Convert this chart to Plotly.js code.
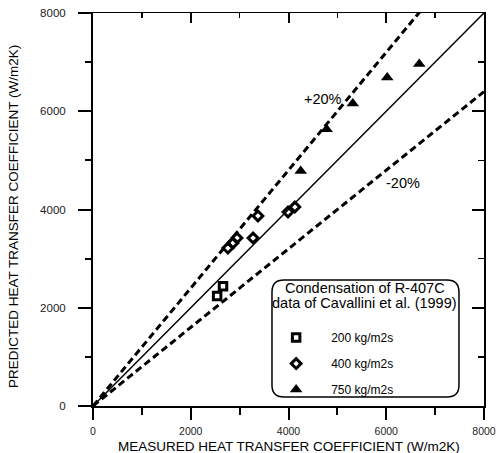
<!DOCTYPE html>
<html>
<head>
<meta charset="utf-8">
<script src="https://cdn.plot.ly/plotly-3.0.1.min.js"></script>
<style>html,body{margin:0;padding:0;background:#fff;}</style>
</head>
<body>
<div id="chart" style="width:496px;height:453px;"></div>
<script>
// Data (W/m2K)
const g200_measured = [2660, 2540];
const g200_predicted = [2440, 2240];
const g400_measured = [2760, 2865, 2945, 3275, 3375, 3990, 4130];
const g400_predicted = [3215, 3320, 3420, 3420, 3870, 3950, 4050];
const g750_measured = [4250, 4780, 5315, 6020, 6675];
const g750_predicted = [4785, 5635, 6160, 6685, 6960];
const refRange = [0, 8000];
const plus20 = refRange.map(v => v * 1.2);
const minus20 = refRange.map(v => v * 0.8);
const seriesNames = ['200 kg/m2s', '400 kg/m2s', '750 kg/m2s'];
const legendTitleLines = ['Condensation of R-407C', 'data of Cavallini et al. (1999)'];
const xTitle = 'MEASURED HEAT TRANSFER COEFFICIENT (W/m2K)';
const yTitle = 'PREDICTED HEAT TRANSFER COEFFICIENT (W/m2K)';

const FONT = 'Liberation Sans, Arial, sans-serif';

const traces = [
  {x: refRange, y: refRange, mode: 'lines', line: {color: '#000', width: 1.5}, showlegend: false, hoverinfo: 'skip', xaxis: 'x2', yaxis: 'y2'},
  {x: refRange, y: plus20, mode: 'lines', line: {color: '#000', width: 3, dash: '7px,4px'}, showlegend: false, hoverinfo: 'skip'},
  {x: refRange, y: minus20, mode: 'lines', line: {color: '#000', width: 3, dash: '7px,4px'}, showlegend: false, hoverinfo: 'skip'},
  {x: g200_measured, y: g200_predicted, mode: 'markers', name: seriesNames[0], legendgroup: 'a',
   marker: {symbol: 'square-open', size: 7.5, color: '#000', line: {width: 3, color: '#000'}}},
  {x: g400_measured, y: g400_predicted, mode: 'markers', name: seriesNames[1], legendgroup: 'b',
   marker: {symbol: 'diamond-open', size: 7.5, color: '#000', line: {width: 3, color: '#000'}}},
  {x: g750_measured, y: g750_predicted, mode: 'markers', name: seriesNames[2], legendgroup: 'c',
   marker: {symbol: 'triangle-up', size: 11, color: '#000', line: {width: 0}}}
];

// rounded legend box in data units (both axes 0..8000)
const bx0 = 3662, bx1 = 7488, by0 = 183, by1 = 2565, rx = 245, ry = 245;
const boxPath = `M ${bx0+rx},${by1} L ${bx1-rx},${by1} Q ${bx1},${by1} ${bx1},${by1-ry} L ${bx1},${by0+ry} Q ${bx1},${by0} ${bx1-rx},${by0} L ${bx0+rx},${by0} Q ${bx0},${by0} ${bx0},${by0+ry} L ${bx0},${by1-ry} Q ${bx0},${by1} ${bx0+rx},${by1} Z`;

const axCommon = {
  range: [0, 8000], showgrid: false, zeroline: false, showline: true,
  linecolor: '#000', linewidth: 2, dtick: 2000, tick0: 0,
  tickcolor: '#000', tickwidth: 2, fixedrange: true
};

const layout = {
  width: 496, height: 453,
  margin: {l: 93, r: 12, t: 13, b: 47},
  paper_bgcolor: '#fff', plot_bgcolor: '#fff',
  font: {family: FONT, color: '#000'},
  showlegend: true,
  xaxis: Object.assign({}, axCommon, {
    ticks: 'outside', ticklen: 12, ticklabelstandoff: 2,
    minor: {dtick: 1000, ticks: 'outside', ticklen: 7, tickwidth: 2, tickcolor: '#000'},
    tickfont: {size: 10.5, family: FONT, color: '#222'}
  }),
  yaxis: Object.assign({}, axCommon, {
    ticks: 'outside', ticklen: 13, ticklabelstandoff: 10,
    minor: {dtick: 1000, ticks: 'outside', ticklen: 6, tickwidth: 2, tickcolor: '#000'},
    tickfont: {size: 11.5, family: FONT, color: '#222'}
  }),
  xaxis2: Object.assign({}, axCommon, {
    overlaying: 'x', side: 'top', anchor: 'y2', ticks: 'inside', ticklen: 10, showticklabels: false, linewidth: 1.5,
    minor: {dtick: 1000, ticks: 'inside', ticklen: 5, tickwidth: 1.5, tickcolor: '#000'}
  }),
  yaxis2: Object.assign({}, axCommon, {
    overlaying: 'y', side: 'right', anchor: 'x2', ticks: 'inside', ticklen: 12, showticklabels: false, linewidth: 1.5,
    minor: {dtick: 1000, ticks: 'inside', ticklen: 6, tickwidth: 1.5, tickcolor: '#000'}
  }),
  legend: {
    x: 0.43, y: 0.211, xanchor: 'left', yanchor: 'top',
    bgcolor: 'rgba(0,0,0,0)', borderwidth: 0,
    traceorder: 'grouped', tracegroupgap: 7, itemwidth: 60, itemsizing: 'trace',
    font: {size: 12, family: FONT}
  },
  shapes: [{type: 'path', path: boxPath, xref: 'x', yref: 'y', line: {color: '#000', width: 1.5}, fillcolor: 'rgba(0,0,0,0)', layer: 'above'}],
  annotations: [
    {x: 4706, y: 6249, xref: 'x', yref: 'y', text: '+20%', showarrow: false, font: {size: 14.5, family: FONT}},
    {x: 6343, y: 4539, xref: 'x', yref: 'y', text: '-20%', showarrow: false, font: {size: 14.5, family: FONT}},
    {x: 5565, y: 2405, xref: 'x', yref: 'y', text: legendTitleLines[0], showarrow: false, font: {size: 14.5, family: FONT}},
    {x: 5565, y: 2100, xref: 'x', yref: 'y', text: legendTitleLines[1], showarrow: false, font: {size: 14.5, family: FONT}},
    {x: 0.5, y: 446, xref: 'paper', yref: 'paper', xanchor: 'center', yanchor: 'middle', text: xTitle, showarrow: false,
     font: {size: 13.5, family: FONT}},
    {x: 13, y: 217, xref: 'paper', yref: 'paper', xanchor: 'center', yanchor: 'middle', text: yTitle, showarrow: false, textangle: -90,
     font: {size: 13.5, family: FONT}}
  ]
};

// convert the two axis-title pixel anchors into paper fractions
(function () {
  const plotW = layout.width - layout.margin.l - layout.margin.r;
  const plotH = layout.height - layout.margin.t - layout.margin.b;
  const xa = layout.annotations[4];
  xa.y = (layout.height - layout.margin.b - xa.y) / plotH;
  const ya = layout.annotations[5];
  ya.x = (ya.x - layout.margin.l) / plotW;
  ya.y = (layout.height - layout.margin.b - ya.y) / plotH;
})();

Plotly.newPlot('chart', traces, layout, {displayModeBar: false, staticPlot: true});
</script>
</body>
</html>
